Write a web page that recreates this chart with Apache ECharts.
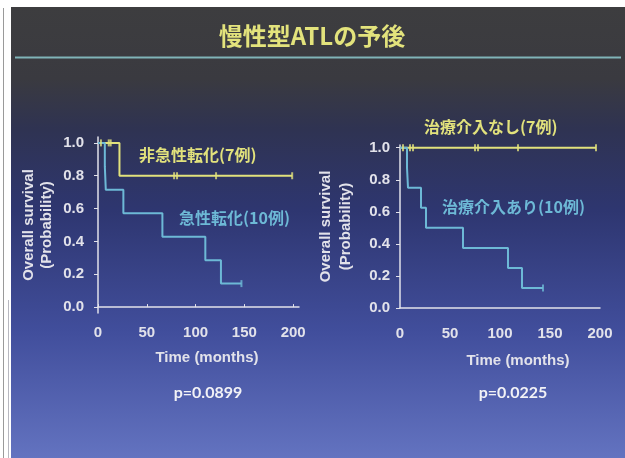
<!DOCTYPE html>
<html><head><meta charset="utf-8">
<script src="https://cdn.jsdelivr.net/npm/echarts@6/dist/echarts.min.js"></script>
<style>html,body{margin:0;padding:0;background:#fff}#c{width:625px;height:458px}</style>
</head><body><div id="c"></div>
<script>
// Kaplan–Meier overall survival, chronic-type ATL
const xTicks = [0, 50, 100, 150, 200];
const yTicks = [0, 0.2, 0.4, 0.6, 0.8, 1.0];

// Left panel: with / without acute transformation
const noTransformTimes  = [0, 22, 199];
const noTransformSurv   = [1.0, 0.8, 0.8];
const noTransformCensor = [3, 11, 13, 78, 81, 121, 199];
const transformTimes  = [0, 7, 8, 26, 66, 110, 126, 147];
const transformSurv   = [1.0, 0.857, 0.714, 0.571, 0.429, 0.286, 0.143, 0.143];
const transformCensor = [147];

// Right panel: with / without therapeutic intervention
const noTreatTimes  = [0, 196];
const noTreatSurv   = [1.0, 1.0];
const noTreatCensor = [3, 10, 13, 75, 78, 118, 196];
const treatTimes  = [0, 7, 8, 21, 26, 63, 108, 122, 143];
const treatSurv   = [1.0, 0.875, 0.75, 0.625, 0.5, 0.375, 0.25, 0.125, 0.125];
const treatCensor = [143];

const pValues = ['p=0.0899', 'p=0.0225'];

const YELLOW = '#e2e27c';
const BLUE = '#6db9d6';
const AXIS = '#e2e2ea';
const LABEL_FONT = '"Liberation Sans", Arial, sans-serif';
const CJK_FONT = '"Noto Sans CJK JP", sans-serif';

const pairs = (t, s) => t.map((x, i) => [x, s[i]]);
function survAt(times, surv, t) {
  let v = surv[0];
  for (let i = 0; i < times.length; i++) if (times[i] <= t) v = surv[i];
  return v;
}
const censorPts = (c, t, s) => c.map(x => [x, survAt(t, s, x)]);

function stepSeries(idx, data, color) {
  return {
    type: 'line', step: 'end', xAxisIndex: idx, yAxisIndex: idx,
    data, symbol: 'none', lineStyle: { color, width: 2 }, z: 3, silent: true
  };
}
function censorSeries(idx, data, color) {
  return {
    type: 'scatter', xAxisIndex: idx, yAxisIndex: idx, data,
    symbol: 'rect', symbolSize: [2, 7], itemStyle: { color }, z: 4, silent: true
  };
}

const axisLabel = { color: AXIS, fontSize: 15, fontWeight: 'bold', fontFamily: LABEL_FONT };
const nameStyle = { color: AXIS, fontSize: 15, fontWeight: 'bold', fontFamily: LABEL_FONT, lineHeight: 18 };

const chart = echarts.init(document.getElementById('c'));
chart.setOption({
  backgroundColor: '#ffffff',
  animation: false,
  graphic: [
    { type: 'rect', z: -10, shape: { x: 11, y: 7, width: 614, height: 451 },
      style: { fill: new echarts.graphic.LinearGradient(0, 0, 0, 1, [
        { offset: 0, color: '#3d3d3f' }, { offset: 0.16, color: '#3a3a40' },
        { offset: 0.27, color: '#2f3352' }, { offset: 0.45, color: '#2e3670' },
        { offset: 0.72, color: '#414e9c' }, { offset: 1, color: '#6373c0' }]) } },
    { type: 'line', z: -9, shape: { x1: 3.5, y1: 8, x2: 3.5, y2: 458 }, style: { stroke: '#9a9a9a', lineWidth: 1 } },
    { type: 'line', z: -9, shape: { x1: 8.5, y1: 300, x2: 8.5, y2: 458 }, style: { stroke: '#b8b8c0', lineWidth: 1 } },
    { type: 'line', z: -9, shape: { x1: 15, y1: 57.5, x2: 621, y2: 57.5 }, style: { stroke: '#80b4b8', lineWidth: 2 } },
    { type: 'text', x: 312, y: 36, style: { text: '慢性型ATLの予後', fill: '#e3e37c',
      font: 'bold 24px ' + CJK_FONT, textAlign: 'center', textVerticalAlign: 'middle' } },
    { type: 'text', x: 139, y: 155, style: { text: '非急性転化(7例)', fill: YELLOW,
      font: 'bold 16px ' + CJK_FONT, textVerticalAlign: 'middle' } },
    { type: 'text', x: 179, y: 218, style: { text: '急性転化(10例)', fill: BLUE,
      font: 'bold 16px ' + CJK_FONT, textVerticalAlign: 'middle' } },
    { type: 'text', x: 424, y: 127, style: { text: '治療介入なし(7例)', fill: YELLOW,
      font: 'bold 16px ' + CJK_FONT, textVerticalAlign: 'middle' } },
    { type: 'text', x: 442, y: 207, style: { text: '治療介入あり(10例)', fill: BLUE,
      font: 'bold 16px ' + CJK_FONT, textVerticalAlign: 'middle' } },
    { type: 'text', x: 208, y: 393, style: { text: pValues[0], fill: '#f2f2f6',
      font: 'bold 16px Lato, sans-serif', textAlign: 'center', textVerticalAlign: 'middle' } },
    { type: 'text', x: 513, y: 393, style: { text: pValues[1], fill: '#f2f2f6',
      font: 'bold 16px Lato, sans-serif', textAlign: 'center', textVerticalAlign: 'middle' } }
  ],
  grid: [
    { left: 98, top: 137, width: 201, height: 176 },
    { left: 400, top: 145, width: 200, height: 163 }
  ],
  xAxis: [
    { gridIndex: 0, type: 'value', min: 0, max: 206,
      name: 'Time (months)', nameLocation: 'middle', nameGap: 36,
      nameTextStyle: Object.assign({}, nameStyle, { padding: [0, 0, 0, 17] }),
      axisLine: { show: true, lineStyle: { color: AXIS, width: 1.5 } },
      axisTick: { show: true, inside: true, length: 3, customValues: xTicks, lineStyle: { color: AXIS } },
      axisLabel: Object.assign({ customValues: xTicks, margin: 12 }, axisLabel),
      splitLine: { show: false } },
    { gridIndex: 1, type: 'value', min: 0, max: 200, offset: 6,
      name: 'Time (months)', nameLocation: 'middle', nameGap: 38,
      nameTextStyle: Object.assign({}, nameStyle, { padding: [0, 0, 0, 36] }),
      axisLine: { show: true, lineStyle: { color: AXIS, width: 1.5 } },
      axisTick: { show: false },
      axisLabel: Object.assign({ customValues: xTicks, margin: 12 }, axisLabel),
      splitLine: { show: false } }
  ],
  yAxis: [
    { gridIndex: 0, type: 'value', min: -0.036, max: 1.036,
      name: 'Overall survival\n(Probability)', nameLocation: 'middle', nameRotate: 90, nameGap: 42,
      nameTextStyle: nameStyle,
      axisLine: { show: true, lineStyle: { color: AXIS, width: 1.5 } },
      axisTick: { show: true, length: 4, customValues: yTicks, lineStyle: { color: AXIS } },
      axisLabel: Object.assign({ customValues: yTicks, margin: 14,
        formatter: v => v.toFixed(1) }, axisLabel),
      splitLine: { show: false } },
    { gridIndex: 1, type: 'value', min: 0, max: 1.017,
      name: 'Overall survival\n(Probability)', nameLocation: 'middle', nameRotate: 90, nameGap: 44,
      nameTextStyle: Object.assign({}, nameStyle, { lineHeight: 20 }),
      axisLine: { show: true, lineStyle: { color: AXIS, width: 1.5 } },
      axisTick: { show: true, length: 4, customValues: yTicks, lineStyle: { color: AXIS } },
      axisLabel: Object.assign({ customValues: yTicks, margin: 10,
        formatter: v => v.toFixed(1) }, axisLabel),
      splitLine: { show: false } }
  ],
  series: [
    stepSeries(0, pairs(noTransformTimes, noTransformSurv), YELLOW),
    censorSeries(0, censorPts(noTransformCensor, noTransformTimes, noTransformSurv), YELLOW),
    stepSeries(0, pairs(transformTimes, transformSurv), BLUE),
    censorSeries(0, censorPts(transformCensor, transformTimes, transformSurv), BLUE),
    stepSeries(1, pairs(noTreatTimes, noTreatSurv), YELLOW),
    censorSeries(1, censorPts(noTreatCensor, noTreatTimes, noTreatSurv), YELLOW),
    stepSeries(1, pairs(treatTimes, treatSurv), BLUE),
    censorSeries(1, censorPts(treatCensor, treatTimes, treatSurv), BLUE)
  ]
});
</script></body></html>
